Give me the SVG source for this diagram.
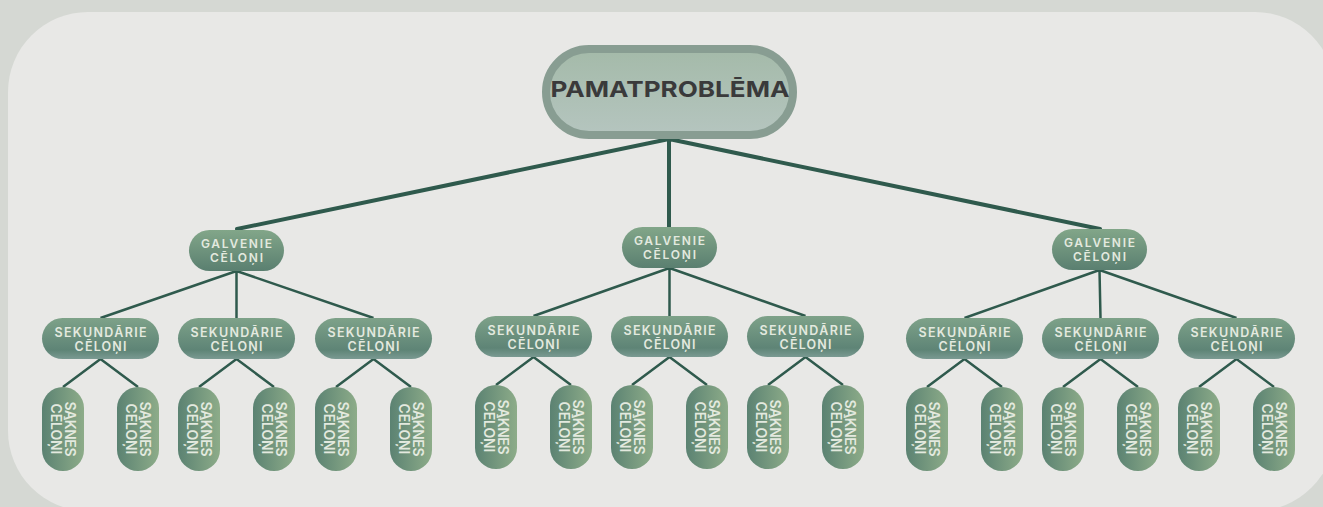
<svg xmlns="http://www.w3.org/2000/svg" width="1323" height="507" viewBox="0 0 1323 507">
<defs>
<linearGradient id="gRoot" x1="0" y1="0" x2="0" y2="1"><stop offset="0" stop-color="#a4baa9"/><stop offset="1" stop-color="#b5c5bf"/></linearGradient>
<linearGradient id="gGal" x1="0" y1="0" x2="0" y2="1"><stop offset="0" stop-color="#82a689"/><stop offset="1" stop-color="#5a7f70"/></linearGradient>
<linearGradient id="gSek" x1="0" y1="0" x2="0" y2="1"><stop offset="0" stop-color="#7ea289"/><stop offset="0.78" stop-color="#5e8476"/><stop offset="1" stop-color="#7a9a92"/></linearGradient>
<linearGradient id="gSak" x1="0" y1="0" x2="1" y2="0"><stop offset="0" stop-color="#5b8272"/><stop offset="1" stop-color="#8dac89"/></linearGradient>
<style>
.bg{fill:#d5d8d3}
.panel{fill:#e8e8e6}
.root{fill:url(#gRoot);stroke:#889d92;stroke-width:8}
.gal{fill:url(#gGal)}
.sek{fill:url(#gSek)}
.sak{fill:url(#gSak)}
.lk1{stroke:#2f5a4d;stroke-width:4;fill:none;stroke-linecap:round}
.lk2{stroke:#2f5a4d;stroke-width:2.5;fill:none}
.t{font-family:Inter,"Open Sans",sans-serif;font-weight:600;fill:#e3e9df;text-anchor:middle}
.tr{font-family:Inter,"Liberation Sans",sans-serif;font-weight:700;fill:#3a3a3b;text-anchor:middle;font-size:22px}
.s13{font-size:12px}
.s14{font-size:12.5px}
.s15{font-size:14px}
</style>
</defs>
<rect class="bg" x="0" y="0" width="1323" height="507"/>
<rect class="panel" x="8" y="12" width="1327" height="499" rx="80" ry="80"/>

<g id="connectors">
<path class="lk1" d="M669 139L237 229M669 139L669 227M669 139L1100 229"/>
<path class="lk2" d="M236.5 271L100.5 318M236.5 271L236.5 318M236.5 271L373.5 318"/>
<path class="lk2" d="M669.5 268L533.5 316M669.5 268L669.5 316M669.5 268L805.5 316"/>
<path class="lk2" d="M1099.5 270L964.5 318M1099.5 270L1100.5 318M1099.5 270L1236.5 318"/>
<path class="lk2" d="M100.5 359L63 387M100.5 359L138 387M236.5 359L199 387M236.5 359L274 387M373.5 359L336 387M373.5 359L411 387"/>
<path class="lk2" d="M533.5 357L496 385M533.5 357L571 385M669.5 357L632 385M669.5 357L707 385M805.5 357L768 385M805.5 357L843 385"/>
<path class="lk2" d="M964.5 359L927 387M964.5 359L1002 387M1100.5 359L1063 387M1100.5 359L1138 387M1236.5 359L1199 387M1236.5 359L1274 387"/>
</g>

<g id="root">
<rect class="root" x="546" y="49" width="247" height="86" rx="43"/>
<text class="tr" x="670" y="97" textLength="239" lengthAdjust="spacingAndGlyphs">PAMATPROBLĒMA</text>
</g>

<g id="galv-1"><rect class="gal" x="189" y="230" width="95" height="41" rx="20.5"/><text class="t s13" x="236.5" y="248" textLength="71">GALVENIE</text><text class="t s13" x="236.5" y="262" textLength="53">CĒLOŅI</text></g>
<g id="galv-2"><rect class="gal" x="622" y="227" width="95" height="41" rx="20.5"/><text class="t s13" x="669.5" y="245" textLength="71">GALVENIE</text><text class="t s13" x="669.5" y="259" textLength="53">CĒLOŅI</text></g>
<g id="galv-3"><rect class="gal" x="1052" y="229" width="95" height="41" rx="20.5"/><text class="t s13" x="1099.5" y="247" textLength="71">GALVENIE</text><text class="t s13" x="1099.5" y="261" textLength="53">CĒLOŅI</text></g>

<g id="sek-1"><rect class="sek" x="42" y="318" width="117" height="41" rx="20.5"/><text class="t s14" x="100.5" y="337" textLength="92">SEKUNDĀRIE</text><text class="t s14" x="100.5" y="351" textLength="52">CĒLOŅI</text></g>
<g id="sek-2"><rect class="sek" x="178" y="318" width="117" height="41" rx="20.5"/><text class="t s14" x="236.5" y="337" textLength="92">SEKUNDĀRIE</text><text class="t s14" x="236.5" y="351" textLength="52">CĒLOŅI</text></g>
<g id="sek-3"><rect class="sek" x="315" y="318" width="117" height="41" rx="20.5"/><text class="t s14" x="373.5" y="337" textLength="92">SEKUNDĀRIE</text><text class="t s14" x="373.5" y="351" textLength="52">CĒLOŅI</text></g>
<g id="sek-4"><rect class="sek" x="475" y="316" width="117" height="41" rx="20.5"/><text class="t s14" x="533.5" y="335" textLength="92">SEKUNDĀRIE</text><text class="t s14" x="533.5" y="349" textLength="52">CĒLOŅI</text></g>
<g id="sek-5"><rect class="sek" x="611" y="316" width="117" height="41" rx="20.5"/><text class="t s14" x="669.5" y="335" textLength="92">SEKUNDĀRIE</text><text class="t s14" x="669.5" y="349" textLength="52">CĒLOŅI</text></g>
<g id="sek-6"><rect class="sek" x="747" y="316" width="117" height="41" rx="20.5"/><text class="t s14" x="805.5" y="335" textLength="92">SEKUNDĀRIE</text><text class="t s14" x="805.5" y="349" textLength="52">CĒLOŅI</text></g>
<g id="sek-7"><rect class="sek" x="906" y="318" width="117" height="41" rx="20.5"/><text class="t s14" x="964.5" y="337" textLength="92">SEKUNDĀRIE</text><text class="t s14" x="964.5" y="351" textLength="52">CĒLOŅI</text></g>
<g id="sek-8"><rect class="sek" x="1042" y="318" width="117" height="41" rx="20.5"/><text class="t s14" x="1100.5" y="337" textLength="92">SEKUNDĀRIE</text><text class="t s14" x="1100.5" y="351" textLength="52">CĒLOŅI</text></g>
<g id="sek-9"><rect class="sek" x="1178" y="318" width="117" height="41" rx="20.5"/><text class="t s14" x="1236.5" y="337" textLength="92">SEKUNDĀRIE</text><text class="t s14" x="1236.5" y="351" textLength="52">CĒLOŅI</text></g>

<g id="sak-1"><rect class="sak" x="42" y="387" width="42" height="84" rx="21"/><g transform="translate(63 429) rotate(90)"><text class="t s15" x="0" y="-2" textLength="55">SAKNES</text><text class="t s15" x="0" y="12" textLength="51">CĒLOŅI</text></g></g>
<g id="sak-2"><rect class="sak" x="117" y="387" width="42" height="84" rx="21"/><g transform="translate(138 429) rotate(90)"><text class="t s15" x="0" y="-2" textLength="55">SAKNES</text><text class="t s15" x="0" y="12" textLength="51">CĒLOŅI</text></g></g>
<g id="sak-3"><rect class="sak" x="178" y="387" width="42" height="84" rx="21"/><g transform="translate(199 429) rotate(90)"><text class="t s15" x="0" y="-2" textLength="55">SAKNES</text><text class="t s15" x="0" y="12" textLength="51">CĒLOŅI</text></g></g>
<g id="sak-4"><rect class="sak" x="253" y="387" width="42" height="84" rx="21"/><g transform="translate(274 429) rotate(90)"><text class="t s15" x="0" y="-2" textLength="55">SAKNES</text><text class="t s15" x="0" y="12" textLength="51">CĒLOŅI</text></g></g>
<g id="sak-5"><rect class="sak" x="315" y="387" width="42" height="84" rx="21"/><g transform="translate(336 429) rotate(90)"><text class="t s15" x="0" y="-2" textLength="55">SAKNES</text><text class="t s15" x="0" y="12" textLength="51">CĒLOŅI</text></g></g>
<g id="sak-6"><rect class="sak" x="390" y="387" width="42" height="84" rx="21"/><g transform="translate(411 429) rotate(90)"><text class="t s15" x="0" y="-2" textLength="55">SAKNES</text><text class="t s15" x="0" y="12" textLength="51">CĒLOŅI</text></g></g>
<g id="sak-7"><rect class="sak" x="475" y="385" width="42" height="84" rx="21"/><g transform="translate(496 427) rotate(90)"><text class="t s15" x="0" y="-2" textLength="55">SAKNES</text><text class="t s15" x="0" y="12" textLength="51">CĒLOŅI</text></g></g>
<g id="sak-8"><rect class="sak" x="550" y="385" width="42" height="84" rx="21"/><g transform="translate(571 427) rotate(90)"><text class="t s15" x="0" y="-2" textLength="55">SAKNES</text><text class="t s15" x="0" y="12" textLength="51">CĒLOŅI</text></g></g>
<g id="sak-9"><rect class="sak" x="611" y="385" width="42" height="84" rx="21"/><g transform="translate(632 427) rotate(90)"><text class="t s15" x="0" y="-2" textLength="55">SAKNES</text><text class="t s15" x="0" y="12" textLength="51">CĒLOŅI</text></g></g>
<g id="sak-10"><rect class="sak" x="686" y="385" width="42" height="84" rx="21"/><g transform="translate(707 427) rotate(90)"><text class="t s15" x="0" y="-2" textLength="55">SAKNES</text><text class="t s15" x="0" y="12" textLength="51">CĒLOŅI</text></g></g>
<g id="sak-11"><rect class="sak" x="747" y="385" width="42" height="84" rx="21"/><g transform="translate(768 427) rotate(90)"><text class="t s15" x="0" y="-2" textLength="55">SAKNES</text><text class="t s15" x="0" y="12" textLength="51">CĒLOŅI</text></g></g>
<g id="sak-12"><rect class="sak" x="822" y="385" width="42" height="84" rx="21"/><g transform="translate(843 427) rotate(90)"><text class="t s15" x="0" y="-2" textLength="55">SAKNES</text><text class="t s15" x="0" y="12" textLength="51">CĒLOŅI</text></g></g>
<g id="sak-13"><rect class="sak" x="906" y="387" width="42" height="84" rx="21"/><g transform="translate(927 429) rotate(90)"><text class="t s15" x="0" y="-2" textLength="55">SAKNES</text><text class="t s15" x="0" y="12" textLength="51">CĒLOŅI</text></g></g>
<g id="sak-14"><rect class="sak" x="981" y="387" width="42" height="84" rx="21"/><g transform="translate(1002 429) rotate(90)"><text class="t s15" x="0" y="-2" textLength="55">SAKNES</text><text class="t s15" x="0" y="12" textLength="51">CĒLOŅI</text></g></g>
<g id="sak-15"><rect class="sak" x="1042" y="387" width="42" height="84" rx="21"/><g transform="translate(1063 429) rotate(90)"><text class="t s15" x="0" y="-2" textLength="55">SAKNES</text><text class="t s15" x="0" y="12" textLength="51">CĒLOŅI</text></g></g>
<g id="sak-16"><rect class="sak" x="1117" y="387" width="42" height="84" rx="21"/><g transform="translate(1138 429) rotate(90)"><text class="t s15" x="0" y="-2" textLength="55">SAKNES</text><text class="t s15" x="0" y="12" textLength="51">CĒLOŅI</text></g></g>
<g id="sak-17"><rect class="sak" x="1178" y="387" width="42" height="84" rx="21"/><g transform="translate(1199 429) rotate(90)"><text class="t s15" x="0" y="-2" textLength="55">SAKNES</text><text class="t s15" x="0" y="12" textLength="51">CĒLOŅI</text></g></g>
<g id="sak-18"><rect class="sak" x="1253" y="387" width="42" height="84" rx="21"/><g transform="translate(1274 429) rotate(90)"><text class="t s15" x="0" y="-2" textLength="55">SAKNES</text><text class="t s15" x="0" y="12" textLength="51">CĒLOŅI</text></g></g>
</svg>
